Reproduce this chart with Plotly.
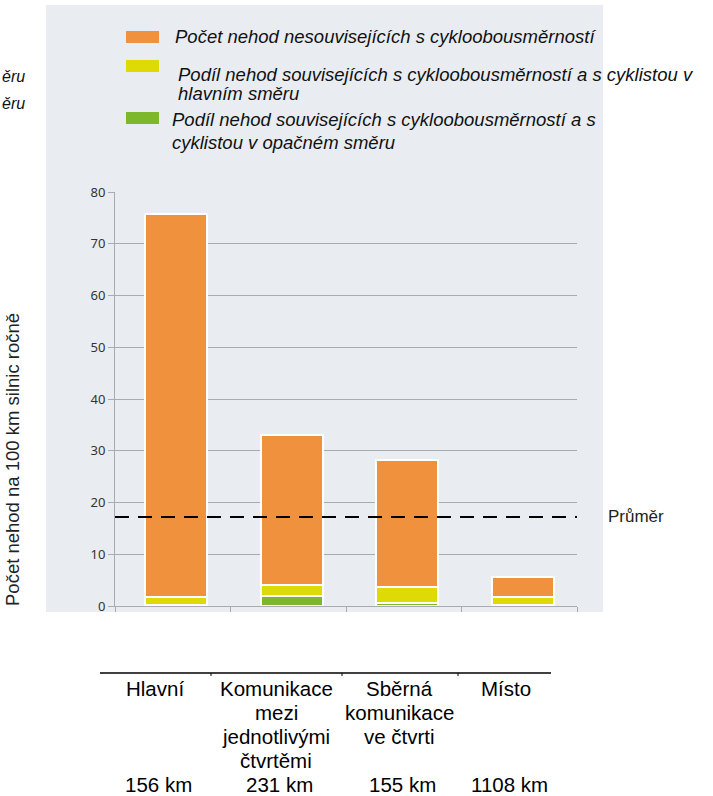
import plotly.graph_objects as go

# Road categories and the data shown per category
categories = ["Hlavní", "Komunikace mezi jednotlivými čtvrtěmi",
              "Sběrná komunikace ve čtvrti", "Místo"]
table_labels = [["Hlavní"],
                ["Komunikace", "mezi", "jednotlivými", "čtvrtěmi"],
                ["Sběrná", "komunikace", "ve čtvrti"],
                ["Místo"]]
road_length_km = [156, 231, 155, 1108]

# Accidents per 100 km of road per year (stacked)
opposite_dir = [0.2, 1.9, 0.5, 0.2]     # contraflow-related, cyclist in opposite direction
main_dir = [1.5, 2.1, 3.1, 1.5]         # contraflow-related, cyclist in main direction
unrelated = [74.0, 29.0, 24.6, 4.0]     # not related to contraflow cycling
average = 17.2

y_ticks = [0, 10, 20, 30, 40, 50, 60, 70, 80]

legend_names = [
    ["Počet nehod nesouvisejících s cykloobousměrností"],
    ["Podíl nehod souvisejících s cykloobousměrností a s cyklistou v", "hlavním směru"],
    ["Podíl nehod souvisejících s cykloobousměrností a s", "cyklistou v opačném směru"],
]

ORANGE = "#F0923D"
YELLOW = "#DEDA06"
GREEN = "#7DB72C"
PANEL = "#E9EDF1"
GRID = "#A9ABAE"

W, H = 713, 796
L, R, T, B = 115, 577, 192, 606   # plot area in pixels


def px(x):
    return (x - L) / (R - L)


def py(y):
    return (B - y) / (B - T)


x_pos = [i + 0.03 for i in range(len(categories))]

fig = go.Figure()
for vals, col in [(opposite_dir, GREEN), (main_dir, YELLOW), (unrelated, ORANGE)]:
    fig.add_trace(go.Bar(
        x=x_pos, y=vals, width=0.54,
        marker=dict(color=col, line=dict(color="white", width=2)),
        showlegend=False, hoverinfo="y",
    ))

# average line
fig.add_trace(go.Scatter(
    x=[-0.5, len(categories) - 0.5], y=[average, average], mode="lines",
    line=dict(color="black", width=2, dash="14px,9px"),
    showlegend=False, hoverinfo="skip",
))

shapes = []
annotations = []

# light background panel
shapes.append(dict(type="rect", xref="paper", yref="paper", layer="below",
                   x0=px(46), x1=px(603), y0=py(612), y1=py(5),
                   fillcolor=PANEL, line=dict(width=0)))

# legend
LEG_FONT = dict(family="Liberation Sans", size=18.5, color="#111111")
legend_colors = [ORANGE, YELLOW, GREEN]
legend_boxes = [(126, 31, 159, 43), (126, 60, 159, 72), (126, 112, 159, 124)]
legend_text_pos = [(173, [37]), (176, [74, 93]), (170, [120, 143])]
for col, (x0, y0, x1, y1), (tx, tys), lines in zip(legend_colors, legend_boxes,
                                                   legend_text_pos, legend_names):
    shapes.append(dict(type="rect", xref="paper", yref="paper",
                       x0=px(x0), x1=px(x1), y0=py(y1), y1=py(y0),
                       fillcolor=col, line=dict(width=0)))
    for ty, txt in zip(tys, lines):
        annotations.append(dict(
            xref="paper", yref="paper", x=px(tx), y=py(ty),
            xanchor="left", yanchor="middle", showarrow=False,
            text=f"<i>{txt}</i>", font=LEG_FONT))

# trailing word endings of a neighbouring legend at the left edge
for ty in (76, 104):
    annotations.append(dict(
        xref="paper", yref="paper", x=px(0), y=py(ty),
        xanchor="left", yanchor="middle", showarrow=False,
        text="<i>ěru</i>", font=dict(family="Liberation Sans", size=16, color="#111111")))

# average label
annotations.append(dict(
    xref="paper", yref="y", x=px(606), y=average, xanchor="left", yanchor="middle",
    showarrow=False, text="Průměr",
    font=dict(family="Liberation Sans", size=17, color="#222222")))

# y axis title
annotations.append(dict(
    xref="paper", yref="paper", x=px(12), y=py(460), xanchor="center",
    yanchor="middle", showarrow=False, textangle=-90,
    text="Počet nehod na 100 km silnic ročně",
    font=dict(family="Liberation Sans", size=18.5, color="#222222")))

# category table below the chart
shapes.append(dict(type="line", xref="paper", yref="paper",
                   x0=px(100), x1=px(551), y0=py(673), y1=py(673),
                   line=dict(color="black", width=1.5)))
for sx in (211, 342, 458):
    shapes.append(dict(type="line", xref="paper", yref="paper",
                       x0=px(sx), x1=px(sx), y0=py(673), y1=py(676),
                       line=dict(color="black", width=1)))

TABLE_FONT = dict(family="Liberation Sans", size=20.5, color="black")
col_centers = [155, 276, 399, 506]
row_y = [688, 712, 736, 760]
for cx, lines, km in zip(col_centers, table_labels, road_length_km):
    for ty, txt in zip(row_y, lines):
        annotations.append(dict(
            xref="paper", yref="paper", x=px(cx), y=py(ty),
            xanchor="center", yanchor="middle", showarrow=False, text=txt,
            font=TABLE_FONT))
    annotations.append(dict(
        xref="paper", yref="paper", x=px(cx + 3), y=py(784),
        xanchor="center", yanchor="middle", showarrow=False, text=f"{km} km",
        font=TABLE_FONT))

fig.update_layout(
    width=W, height=H,
    margin=dict(l=L, r=W - R, t=T, b=H - B, pad=0),
    paper_bgcolor="white", plot_bgcolor="rgba(0,0,0,0)",
    barmode="stack", bargap=0,
    shapes=shapes, annotations=annotations,
    xaxis=dict(range=[-0.5, len(categories) - 0.5],
               tickvals=[i - 0.5 for i in range(len(categories) + 1)],
               showticklabels=False, ticks="outside", ticklen=5,
               tickcolor=GRID, showgrid=False, zeroline=False,
               showline=True, linecolor=GRID, linewidth=1, fixedrange=True),
    yaxis=dict(range=[0, 80], tickvals=y_ticks, ticks="outside", ticklen=6,
               tickcolor=GRID, showgrid=True, gridcolor=GRID, gridwidth=1,
               zeroline=False, showline=True, linecolor=GRID, linewidth=1,
               tickfont=dict(family="Noto Sans", size=13, color="#333333"),
               fixedrange=True),
)

fig.write_html("out.html")
